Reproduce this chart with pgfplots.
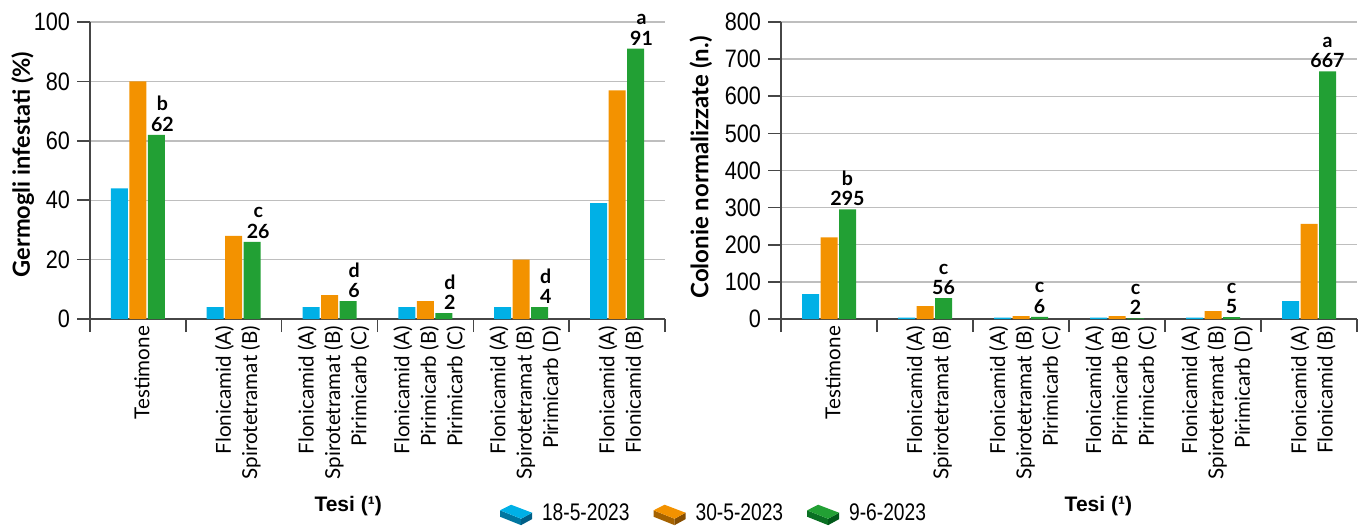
\documentclass[border=0pt]{standalone}
\usepackage{fontspec}
\setmainfont{Lato}
\newfontfamily\condfont[FakeStretch=0.86]{Liberation Sans}
\newfontfamily\legfont[FakeStretch=0.8]{Liberation Sans}
\newfontfamily\headfont{Liberation Sans}
\usepackage{pgfplots}
\pgfplotsset{compat=1.18}

\definecolor{cyanA}{RGB}{0,176,230}
\definecolor{cyanL}{RGB}{0,118,160}
\definecolor{cyanD}{RGB}{0,95,135}
\definecolor{orangeA}{RGB}{243,146,0}
\definecolor{orangeL}{RGB}{165,98,0}
\definecolor{orangeD}{RGB}{135,78,0}
\definecolor{greenA}{RGB}{34,160,52}
\definecolor{greenL}{RGB}{10,112,35}
\definecolor{greenD}{RGB}{0,88,25}
\definecolor{axisgray}{RGB}{70,70,70}
\definecolor{gridgray}{RGB}{190,190,190}

% small isometric box used as legend symbol: top, left, right face colours
\newcommand\cube[3]{%
  \fill[#2] (0pt,1.6pt) -- (10.5pt,-2.6pt) -- (10.5pt,-5.8pt) -- (0pt,-1.6pt) -- cycle;
  \fill[#3] (10.5pt,-2.6pt) -- (16pt,0.4pt) -- (16pt,-2.8pt) -- (10.5pt,-5.8pt) -- cycle;
  \fill[#1] (0pt,1.6pt) -- (5.5pt,4.4pt) -- (16pt,0.4pt) -- (10.5pt,-2.6pt) -- cycle;
}

\pgfplotsset{
  panel/.style={
    scale only axis, height=148.5pt,
    ybar=0.75pt, bar width=8.5pt,
    xmin=-0.5, xmax=5.5, ymin=0,
    axis lines*=left,
    axis line style={axisgray, line width=0.8pt},
    ymajorgrids, grid style={gridgray, line width=0.7pt},
    tick align=outside, major tick length=6.5pt,
    tick style={axisgray, line width=0.8pt},
    xtick={-0.5,0.5,1.5,2.5,3.5,4.5,5.5},
    xticklabels={,,,,,,},
    extra x ticks={0,1,2,3,4,5},
    extra x tick labels={Testimone,
      {Flonicamid (A)\\Spirotetramat (B)},
      {Flonicamid (A)\\Spirotetramat (B)\\Pirimicarb (C)},
      {Flonicamid (A)\\Pirimicarb (B)\\Pirimicarb (C)},
      {Flonicamid (A)\\Spirotetramat (B)\\Pirimicarb (D)},
      {Flonicamid (A)\\Flonicamid (B)}},
    extra x tick style={major tick length=0pt,
      xticklabel style={rotate=90, anchor=east, align=right, yshift=-2pt,
        font=\fontsize{10.3}{13.2}\selectfont}},
    /pgf/number format/assume math mode=true,
    yticklabel style={font=\condfont\fontsize{12.6}{14}\selectfont},
    every node near coord/.append style={align=center, text=black,
      inner sep=1.5pt, font=\bfseries\fontsize{9.8}{10.2}\selectfont},
  }
}

\begin{document}
\begin{tikzpicture}
\path[use as bounding box] (0,0) rectangle (680pt,263.5pt);

% infested shoots (%)
\begin{axis}[panel, at={(45pt,104pt)}, anchor=south west, width=287.5pt,
  ymax=100, ytick={0,20,40,60,80,100},
  ylabel={Germogli infestati (\%)},
  every axis y label/.style={at={(axis description cs:-0.117,0.52)}, rotate=90, anchor=center,
    font=\bfseries\fontsize{11.8}{13}\selectfont},
  xlabel={Tesi (¹)},
  every axis x label/.style={at={(axis description cs:0.449,-0.63)}, anchor=center,
    font=\headfont\bfseries\fontsize{10.5}{12}\selectfont},
  legend style={at={(1.087,-0.655)}, anchor=center, legend columns=3, draw=none, fill=none,
    inner sep=1pt,
    font=\legfont\fontsize{12}{14}\selectfont,
    /tikz/every odd column/.append style={column sep=3pt},
    /tikz/every even column/.append style={column sep=10pt}},
  every node near coord/.append style={xshift=3pt}]
\addplot[fill=cyanA, draw=none, legend image code/.code={\cube{cyanA}{cyanL}{cyanD}}]
  coordinates {(0,44) (1,4) (2,4) (3,4) (4,4) (5,39)};
\addplot[fill=orangeA, draw=none, legend image code/.code={\cube{orangeA}{orangeL}{orangeD}}]
  coordinates {(0,80) (1,28) (2,8) (3,6) (4,20) (5,77)};
\addplot[fill=greenA, draw=none, legend image code/.code={\cube{greenA}{greenL}{greenD}},
  point meta=explicit symbolic, nodes near coords]
  coordinates {(0,62) [b\\62] (1,26) [c\\26] (2,6) [d\\6] (3,2) [d\\2] (4,4) [d\\4] (5,91) [a\\91]};
\legend{18-5-2023, 30-5-2023, 9-6-2023}
\end{axis}

% normalised colonies (n.)
\begin{axis}[panel, at={(390.5pt,104pt)}, anchor=south west, width=288pt,
  ymax=800, ytick={0,100,...,800},
  ylabel={Colonie normalizzate (n.)},
  every axis y label/.style={at={(axis description cs:-0.139,0.51)}, rotate=90, anchor=center,
    font=\bfseries\fontsize{12}{13}\selectfont},
  xlabel={Tesi (¹)},
  every axis x label/.style={at={(axis description cs:0.551,-0.63)}, anchor=center,
    font=\headfont\bfseries\fontsize{10.5}{12}\selectfont}]
\addplot[fill=cyanA, draw=none]
  coordinates {(0,67) (1,4) (2,4) (3,4) (4,4) (5,48)};
\addplot[fill=orangeA, draw=none]
  coordinates {(0,220) (1,35) (2,8) (3,8) (4,21) (5,256)};
\addplot[fill=greenA, draw=none, point meta=explicit symbolic, nodes near coords]
  coordinates {(0,295) [b\\295] (1,56) [c\\56] (2,6) [c\\6] (3,2) [c\\2] (4,5) [c\\5] (5,667) [a\\667]};
\end{axis}
\end{tikzpicture}
\end{document}
